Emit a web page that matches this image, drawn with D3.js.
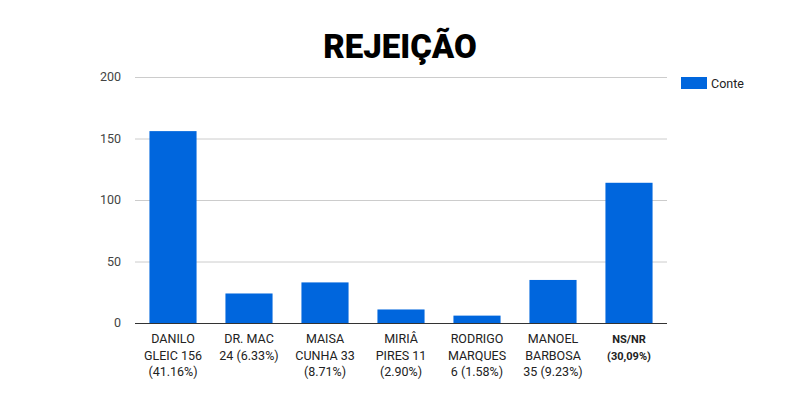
<!DOCTYPE html>
<html><head><meta charset="utf-8">
<script src="https://cdn.jsdelivr.net/npm/d3@7"></script>
<style>body{margin:0;background:#fff}</style></head>
<body><svg id="c" width="800" height="400"></svg>
<script>
const categories = ["DANILO\nGLEIC 156\n(41.16%)","DR. MAC\n24 (6.33%)","MAISA\nCUNHA 33\n(8.71%)","MIRIÂ\nPIRES 11\n(2.90%)","RODRIGO\nMARQUES\n6 (1.58%)","MANOEL\nBARBOSA\n35 (9.23%)","NS/NR\n(30,09%)"];
const values = [156,24,33,11,6,35,114];
const yTicks = [0,50,100,150,200];
const boldIdx = [6];
const svg = d3.select("#c");
const L=135,R=667,T=77,B=323;
const x = d3.scaleBand().domain(d3.range(categories.length)).range([L,R]).paddingInner(0.38).paddingOuter(0.19);
const y = d3.scaleLinear().domain([0,200]).range([B,T]);
svg.append("text").attr("x",400).attr("y",58).attr("text-anchor","middle")
  .attr("font-family","Roboto, sans-serif").attr("font-weight",900).attr("font-size",33).attr("fill","#000").text("REJEIÇÃO");
svg.selectAll(".g").data(yTicks).enter().append("line")
  .attr("x1",L).attr("x2",R).attr("y1",d=>y(d)+0.5).attr("y2",d=>y(d)+0.5)
  .attr("stroke",d=>d===0?"#333":"#ccc").attr("stroke-width",1);
svg.selectAll(".yt").data(yTicks).enter().append("text")
  .attr("x",121).attr("y",d=>y(d)+4).attr("text-anchor","end")
  .attr("font-family","Roboto, sans-serif").attr("font-size",12.5).attr("fill","#444").text(d=>d);
svg.selectAll(".b").data(values).enter().append("rect")
  .attr("x",(d,i)=>x(i)).attr("width",x.bandwidth()).attr("y",d=>y(d)).attr("height",d=>B-y(d)).attr("fill","#0066dd");
svg.select("line:last-of-type");
svg.append("line").attr("x1",L).attr("x2",R).attr("y1",B+0.5).attr("y2",B+0.5).attr("stroke","#333");
categories.forEach((c,i)=>{
  const t = svg.append("text").attr("text-anchor","middle").attr("font-family","Roboto, sans-serif")
    .attr("font-size",boldIdx.includes(i)?11:12.5).attr("font-weight",boldIdx.includes(i)?700:400).attr("fill","#222");
  c.split("\n").forEach((ln,k)=>t.append("tspan").attr("x",x(i)+x.bandwidth()/2).attr("y",343+k*16.5).text(ln));
});
svg.append("rect").attr("x",681).attr("y",77).attr("width",26).attr("height",12).attr("fill","#0066dd");
svg.append("text").attr("x",711).attr("y",88).attr("font-family","Roboto, sans-serif").attr("font-size",12.5).attr("fill","#222").text("Conte");
</script></body></html>
